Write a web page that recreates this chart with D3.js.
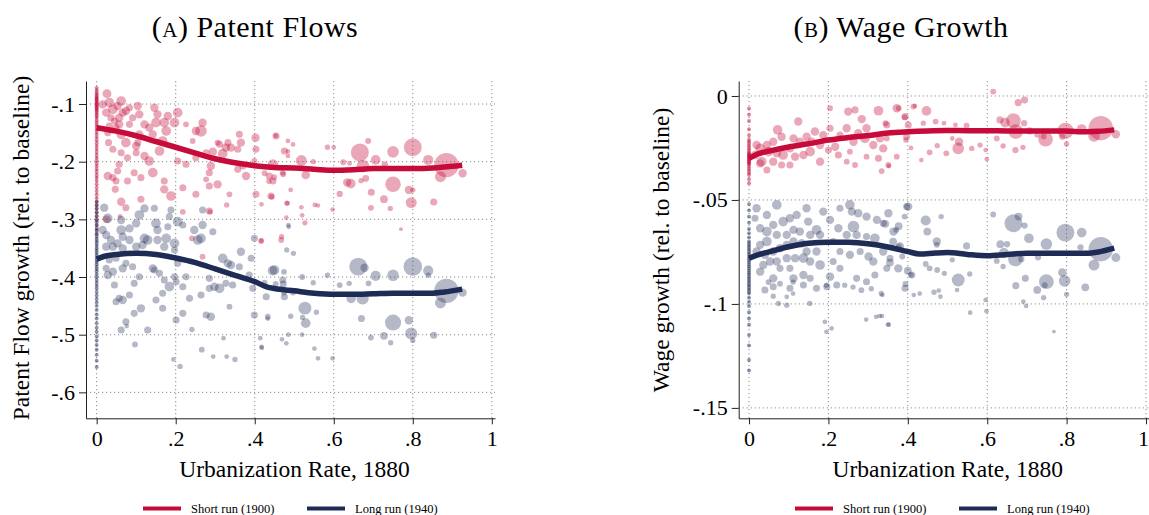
<!DOCTYPE html>
<html>
<head>
<meta charset="utf-8">
<script src="https://cdn.jsdelivr.net/npm/d3@7"></script>
<style>
  body { margin: 0; background: #fff; }
  svg text { font-family: "Liberation Serif", "Times New Roman", serif; fill: #000; }
  .grid line { stroke: #8c8c8c; stroke-dasharray: 1.2 2.8; }
  .axis path, .axis line { stroke: #222; }
</style>
</head>
<body>
<svg id="chart" width="1149" height="515"></svg>
<script>
'use strict';

// ---------- data ----------
const seriesNames = ["Short run (1900)", "Long run (1940)"];
const panelTitles = ["Patent Flows", "Wage Growth"];
const panelLetters = ["a", "b"];
const xTitle = "Urbanization Rate, 1880";
const yTitles = ["Patent Flow growth (rel. to baseline)", "Wage growth (rel. to baseline)"];

const xTicks = [0, 0.2, 0.4, 0.6, 0.8, 1];
const xTickLabels = ["0", ".2", ".4", ".6", ".8", "1"];
const patentTicks = [-0.1, -0.2, -0.3, -0.4, -0.5, -0.6];
const patentTickLabels = ["-.1", "-.2", "-.3", "-.4", "-.5", "-.6"];
const wageTicks = [0, -0.05, -0.1, -0.15];
const wageTickLabels = ["0", "-.05", "-.1", "-.15"];

// fitted lines [urbanization, growth]
const patentShortFit = [[0,-0.141],[0.05,-0.147],[0.1,-0.155],[0.15,-0.165],[0.2,-0.175],[0.25,-0.185],[0.3,-0.195],[0.35,-0.202],[0.4,-0.207],[0.45,-0.21],[0.5,-0.211],[0.55,-0.213],[0.6,-0.215],[0.65,-0.214],[0.7,-0.212],[0.75,-0.212],[0.8,-0.212],[0.85,-0.211],[0.9,-0.208],[0.925,-0.206]];
const patentLongFit = [[0,-0.369],[0.02,-0.364],[0.05,-0.361],[0.1,-0.359],[0.15,-0.361],[0.2,-0.367],[0.25,-0.375],[0.3,-0.386],[0.35,-0.397],[0.4,-0.408],[0.43,-0.417],[0.45,-0.42],[0.5,-0.424],[0.55,-0.428],[0.6,-0.43],[0.65,-0.43],[0.7,-0.429],[0.75,-0.428],[0.8,-0.428],[0.85,-0.428],[0.88,-0.426],[0.925,-0.421]];
const wageShortFit = [[0,-0.03],[0.02,-0.028],[0.05,-0.0265],[0.1,-0.0245],[0.15,-0.023],[0.2,-0.0212],[0.25,-0.02],[0.3,-0.019],[0.35,-0.0178],[0.4,-0.0172],[0.45,-0.0168],[0.5,-0.0166],[0.55,-0.0167],[0.6,-0.0167],[0.65,-0.0168],[0.7,-0.0168],[0.75,-0.0168],[0.8,-0.0169],[0.85,-0.0172],[0.88,-0.017],[0.92,-0.0163]];
const wageLongFit = [[0,-0.078],[0.02,-0.0765],[0.05,-0.075],[0.1,-0.0725],[0.15,-0.0708],[0.2,-0.0703],[0.25,-0.0704],[0.3,-0.0711],[0.35,-0.0726],[0.4,-0.0748],[0.43,-0.076],[0.47,-0.0755],[0.5,-0.0753],[0.55,-0.0762],[0.6,-0.0768],[0.65,-0.0762],[0.7,-0.0756],[0.75,-0.0756],[0.8,-0.0756],[0.85,-0.0756],[0.88,-0.075],[0.92,-0.0732]];

// county points [urbanization, growth, population weight]
const patentShortPts = [
[0.026,-0.082,13],[0.015,-0.1006,11],[0.032,-0.0977,16],[0.041,-0.1092,16],[0.053,-0.1035,11],[0.062,-0.0948,16],[0.066,-0.115,11],[0.024,-0.115,11],[0.036,-0.1237,7],[0.057,-0.1237,11],[0.074,-0.1121,11],[0.083,-0.1064,7],[0.104,-0.1035,11],[0.108,-0.1179,11],[0.091,-0.1237,7],[0.083,-0.1353,7],[0.057,-0.1353,11],[0.045,-0.1295,7],[0.146,-0.1064,11],[0.154,-0.1179,11],[0.18,-0.1208,11],[0.171,-0.1324,16],[0.205,-0.115,16],[0.197,-0.1324,16],[0.15,-0.1324,16],[0.133,-0.141,11],[0.121,-0.1353,11],[0.142,-0.1526,11],[0.108,-0.1526,11],[0.104,-0.167,7],[0.074,-0.167,16],[0.062,-0.1526,16],[0.049,-0.141,7],[0.032,-0.1382,7],[0.028,-0.1497,7],[0.03,-0.167,7],[0.041,-0.1786,7],[0.1,-0.1728,11],[0.121,-0.1902,11],[0.133,-0.1988,16],[0.159,-0.1815,16],[0.167,-0.1642,16],[0.176,-0.1468,16],[0.1,-0.1844,7],[0.078,-0.1931,7],[0.062,-0.1844,7],[0.057,-0.2046,7],[0.053,-0.2162,7],[0.028,-0.2249,11],[0.041,-0.2277,7],[0.049,-0.2335,7],[0.078,-0.2335,7],[0.095,-0.2191,7],[0.112,-0.2277,7],[0.142,-0.2191,16],[0.171,-0.2335,7],[0.171,-0.248,11],[0.188,-0.2595,16],[0.112,-0.2653,7],[0.062,-0.2694,11],[0.074,-0.2798,7],[0.047,-0.248,7],[0.205,-0.1988,7],[0.226,-0.2046,7],[0.218,-0.2451,7],[0.251,-0.1931,7],[0.264,-0.1468,25],[0.251,-0.1468,11],[0.268,-0.1324,11],[0.277,-0.1844,7],[0.294,-0.1827,11],[0.311,-0.1699,7],[0.319,-0.1861,16],[0.327,-0.1757,11],[0.34,-0.1757,11],[0.361,-0.1526,7],[0.365,-0.167,11],[0.357,-0.1786,7],[0.332,-0.167,7],[0.306,-0.167,4],[0.357,-0.2133,7],[0.37,-0.2075,7],[0.378,-0.2249,11],[0.403,-0.1786,7],[0.402,-0.1584,11],[0.403,-0.2566,7],[0.399,-0.1988,4],[0.437,-0.2249,7],[0.441,-0.2595,7],[0.446,-0.2335,7],[0.454,-0.1555,7],[0.471,-0.2191,4],[0.475,-0.1815,7],[0.289,-0.2075,11],[0.285,-0.2191,7],[0.277,-0.2306,4],[0.306,-0.2393,11],[0.285,-0.2422,7],[0.251,-0.2566,7],[0.336,-0.2566,4],[0.226,-0.1353,4],[0.243,-0.1642,4],
[0.059,-0.295,2],[0.025,-0.3,9],[0.287,-0.287,3],[0.329,-0.275,3],[0.481,-0.272,3],[0.218,-0.287,4],[0.285,-0.2856,7],[0.268,-0.3647,4],[0.241,-0.3329,4],[0.416,-0.3376,4],[0.467,-0.3358,4],
[0.453,-0.155,2],[0.484,-0.164,2],[0.497,-0.17,2],[0.484,-0.182,2],[0.484,-0.19,2],[0.446,-0.205,20],[0.425,-0.22,4],[0.449,-0.227,4],[0.436,-0.234,3],[0.472,-0.222,4],[0.491,-0.249,2],[0.443,-0.261,4],[0.417,-0.274,2],[0.483,-0.272,2],[0.48,-0.297,2],[0.527,-0.306,3],[0.518,-0.279,2],[0.52,-0.293,2],[0.552,-0.275,2],[0.56,-0.276,2],[0.417,-0.337,2],[0.468,-0.33,3],[0.518,-0.198,22],[0.529,-0.223,12],[0.548,-0.2,3],[0.584,-0.175,3],[0.6,-0.175,2],[0.624,-0.201,4],[0.64,-0.203,2],[0.666,-0.184,69],[0.687,-0.164,4],[0.674,-0.208,30],[0.706,-0.197,16],[0.729,-0.205,5],[0.75,-0.183,25],[0.8,-0.175,69],[0.839,-0.197,18],[0.885,-0.206,137],[0.87,-0.226,22],[0.926,-0.22,11],[0.634,-0.236,11],[0.643,-0.238,16],[0.681,-0.229,6],[0.669,-0.233,3],[0.75,-0.239,50],[0.695,-0.253,7],[0.727,-0.265,9],[0.694,-0.28,4],[0.743,-0.281,3],[0.79,-0.249,11],[0.8,-0.249,3],[0.796,-0.271,22],[0.853,-0.27,7],[0.615,-0.256,5],[0.597,-0.283,2],[0.77,-0.317,1]
];
const patentLongPts = [
[0.019,-0.2798,11],[0.028,-0.2983,16],[0.062,-0.3012,11],[0.062,-0.3185,16],[0.083,-0.3156,11],[0.1,-0.3069,11],[0.108,-0.2925,16],[0.121,-0.2809,11],[0.146,-0.2809,7],[0.15,-0.3069,16],[0.154,-0.3185,11],[0.176,-0.3329,16],[0.18,-0.3127,7],[0.205,-0.304,16],[0.197,-0.3416,16],[0.171,-0.3474,11],[0.154,-0.3358,11],[0.129,-0.3358,16],[0.121,-0.3329,16],[0.116,-0.3445,11],[0.1,-0.3474,11],[0.083,-0.3358,11],[0.066,-0.3301,11],[0.053,-0.3416,11],[0.036,-0.3358,11],[0.024,-0.3272,11],[0.015,-0.3185,11],[0.024,-0.3474,11],[0.041,-0.3474,11],[0.066,-0.3503,11],[0.032,-0.3705,7],[0.049,-0.3676,7],[0.074,-0.3763,7],[0.091,-0.3821,7],[0.066,-0.385,11],[0.041,-0.3908,11],[0.024,-0.385,7],[0.028,-0.3965,11],[0.045,-0.4139,7],[0.057,-0.437,7],[0.049,-0.4428,7],[0.066,-0.4399,11],[0.083,-0.4312,7],[0.095,-0.411,7],[0.108,-0.3994,7],[0.142,-0.385,11],[0.146,-0.3879,7],[0.159,-0.3936,7],[0.171,-0.4052,7],[0.184,-0.4168,16],[0.197,-0.3994,7],[0.201,-0.4081,7],[0.167,-0.4283,7],[0.15,-0.4399,7],[0.167,-0.4543,7],[0.112,-0.4543,11],[0.095,-0.463,7],[0.074,-0.4775,7],[0.062,-0.492,7],[0.129,-0.492,7],[0.201,-0.4746,7],[0.218,-0.463,7],[0.197,-0.3532,7],[0.205,-0.3763,7],[0.226,-0.3994,7],[0.247,-0.3185,11],[0.256,-0.3358,16],[0.268,-0.3098,11],[0.264,-0.3329,16],[0.294,-0.3214,7],[0.319,-0.3676,16],[0.332,-0.3763,11],[0.34,-0.3792,11],[0.361,-0.3821,7],[0.365,-0.3561,11],[0.327,-0.411,7],[0.344,-0.4139,7],[0.311,-0.4197,16],[0.298,-0.4168,11],[0.285,-0.4197,7],[0.264,-0.4312,7],[0.277,-0.4659,7],[0.289,-0.4688,11],[0.336,-0.4514,4],[0.391,-0.3676,7],[0.386,-0.3965,7],[0.399,-0.3329,7],[0.395,-0.4197,7],[0.399,-0.4659,7],[0.429,-0.4341,7],[0.433,-0.4688,4],[0.45,-0.3879,16],[0.471,-0.4052,7],[0.475,-0.4341,7],[0.235,-0.437,7],[0.218,-0.4168,7],[0.285,-0.4023,7],[0.184,-0.295,7],[0.188,-0.2838,7],[0.218,-0.3098,7],[0.268,-0.2838,7],
[0.097,-0.517,4],[0.194,-0.543,2],[0.211,-0.555,3],[0.266,-0.526,4],[0.295,-0.538,2],[0.329,-0.538,2],[0.35,-0.543,3],[0.321,-0.506,2],[0.241,-0.491,3],[0.414,-0.506,2],[0.418,-0.523,2],[0.076,-0.485,2],[0.485,-0.31,2],[0.481,-0.353,3],[0.498,-0.359,3],
[0.445,-0.389,16],[0.474,-0.391,4],[0.425,-0.41,4],[0.453,-0.412,4],[0.472,-0.412,7],[0.474,-0.427,4],[0.497,-0.427,4],[0.52,-0.4,4],[0.548,-0.41,3],[0.584,-0.397,3],[0.615,-0.414,4],[0.639,-0.411,3],[0.662,-0.382,69],[0.678,-0.384,11],[0.706,-0.398,18],[0.75,-0.397,25],[0.8,-0.382,75],[0.839,-0.389,18],[0.839,-0.397,3],[0.688,-0.411,4],[0.644,-0.437,16],[0.673,-0.437,28],[0.885,-0.424,137],[0.926,-0.427,11],[0.87,-0.445,22],[0.527,-0.454,32],[0.529,-0.48,16],[0.521,-0.47,3],[0.556,-0.461,3],[0.491,-0.468,3],[0.433,-0.472,2],[0.67,-0.472,7],[0.75,-0.479,54],[0.79,-0.475,11],[0.796,-0.498,28],[0.853,-0.501,7],[0.727,-0.502,9],[0.694,-0.505,4],[0.744,-0.514,3],[0.8,-0.51,3],[0.486,-0.313,2],[0.485,-0.5,2],[0.469,-0.508,2],[0.48,-0.515,2],[0.417,-0.521,2],[0.56,-0.541,2],[0.597,-0.541,2],[0.52,-0.5,2],[0.551,-0.524,2]
];
const wageShortPts = [
[0.124,-0.0123,11],[0.072,-0.0163,16],[0.082,-0.0196,11],[0.061,-0.022,11],[0.045,-0.0236,11],[0.028,-0.0252,16],[0.019,-0.0236,11],[0.015,-0.0284,11],[0.032,-0.0316,16],[0.049,-0.0268,16],[0.07,-0.0276,11],[0.086,-0.0284,16],[0.103,-0.0252,11],[0.112,-0.0204,11],[0.128,-0.022,11],[0.145,-0.0196,11],[0.158,-0.022,11],[0.166,-0.0171,11],[0.187,-0.0188,11],[0.179,-0.0236,11],[0.154,-0.0268,16],[0.137,-0.0284,11],[0.116,-0.0292,11],[0.103,-0.0332,7],[0.082,-0.0332,7],[0.061,-0.0316,11],[0.045,-0.0356,7],[0.028,-0.0324,11],[0.179,-0.0316,11],[0.2,-0.026,7],[0.217,-0.0244,11],[0.225,-0.0284,7],[0.204,-0.0155,7],[0.229,-0.0188,7],[0.246,-0.0155,11],[0.263,-0.022,11],[0.275,-0.0179,11],[0.296,-0.0155,11],[0.292,-0.0204,16],[0.313,-0.0236,11],[0.33,-0.0204,11],[0.338,-0.0252,11],[0.347,-0.0139,7],[0.326,-0.03,7],[0.296,-0.0292,4],[0.246,-0.0316,4],[0.254,-0.0268,4],[0.267,-0.0332,4],[0.25,-0.0075,11],[0.267,-0.0067,7],[0.284,-0.0111,11],[0.326,-0.0071,16],[0.372,-0.0059,11],[0.393,-0.0099,7],[0.401,-0.0139,7],[0.397,-0.0196,7],[0.372,-0.0292,4],[0.351,-0.0332,4],[0.334,-0.0361,4],[0.414,-0.0051,4],[0.347,-0.0204,4],[0.204,-0.0059,4],
[0.344,-0.0131,4],[0.377,-0.0059,4],[0.392,-0.0103,4],[0.418,-0.0048,2],[0.447,-0.0072,16],[0.439,-0.0131,3],[0.47,-0.0123,4],[0.491,-0.0131,2],[0.52,-0.0139,2],[0.548,-0.0143,4],[0.512,-0.0204,2],[0.529,-0.022,11],[0.527,-0.0252,25],[0.561,-0.0252,3],[0.582,-0.0236,3],[0.474,-0.0239,3],[0.497,-0.0276,4],[0.455,-0.0271,4],[0.434,-0.0308,2],[0.352,-0.0337,2],[0.395,-0.0212,3],[0.408,-0.025,2],[0.596,-0.026,2],[0.599,-0.0304,2],[0.615,0.0021,4],[0.678,-0.0032,7],[0.694,-0.0019,7],[0.632,-0.0115,7],[0.645,-0.0128,16],[0.666,-0.0119,44],[0.672,-0.0171,44],[0.693,-0.0131,5],[0.707,-0.0168,7],[0.726,-0.0187,4],[0.747,-0.0208,44],[0.742,-0.0195,4],[0.671,-0.026,5],[0.69,-0.0247,3],[0.624,-0.0204,4],[0.64,-0.024,3],[0.797,-0.0167,54],[0.789,-0.0196,5],[0.8,-0.0231,3],[0.838,-0.0159,16],[0.886,-0.0155,137],[0.869,-0.0192,25],[0.924,-0.0184,11]
];
const wageLongPts = [
[0.019,-0.054,11],[0.015,-0.0588,7],[0.07,-0.0524,16],[0.045,-0.0572,11],[0.028,-0.0636,11],[0.045,-0.0652,16],[0.061,-0.062,11],[0.086,-0.0604,16],[0.103,-0.0588,11],[0.12,-0.0572,11],[0.145,-0.054,11],[0.149,-0.0604,11],[0.17,-0.0644,16],[0.179,-0.0668,11],[0.154,-0.0668,11],[0.128,-0.0652,11],[0.112,-0.0644,11],[0.095,-0.0668,11],[0.07,-0.0668,11],[0.045,-0.07,16],[0.028,-0.0716,11],[0.019,-0.0748,11],[0.04,-0.0764,11],[0.061,-0.0748,11],[0.078,-0.0732,11],[0.095,-0.0716,11],[0.112,-0.07,11],[0.133,-0.0708,11],[0.145,-0.0748,11],[0.137,-0.078,16],[0.116,-0.078,11],[0.095,-0.078,11],[0.07,-0.0796,11],[0.053,-0.0796,11],[0.036,-0.0813,11],[0.028,-0.0845,11],[0.061,-0.0877,11],[0.078,-0.0829,7],[0.103,-0.0829,7],[0.112,-0.0877,11],[0.137,-0.0861,11],[0.154,-0.0796,11],[0.179,-0.0813,16],[0.17,-0.0748,11],[0.187,-0.0556,11],[0.204,-0.0596,11],[0.229,-0.054,7],[0.254,-0.0524,16],[0.259,-0.0556,11],[0.275,-0.0564,11],[0.296,-0.058,11],[0.263,-0.0628,25],[0.225,-0.0636,11],[0.246,-0.0668,11],[0.271,-0.0668,11],[0.322,-0.0596,11],[0.338,-0.0612,7],[0.351,-0.0564,11],[0.364,-0.0652,11],[0.317,-0.0684,16],[0.296,-0.0676,7],[0.212,-0.07,7],[0.229,-0.0748,7],[0.212,-0.0796,7],[0.254,-0.0764,11],[0.28,-0.0748,7],[0.301,-0.0772,11],[0.313,-0.0796,11],[0.338,-0.0748,11],[0.355,-0.078,7],[0.38,-0.0724,11],[0.376,-0.0829,11],[0.347,-0.0829,7],[0.317,-0.0861,7],[0.296,-0.0893,7],[0.271,-0.0877,7],[0.229,-0.0829,7],[0.204,-0.0869,11],[0.154,-0.0877,7],[0.137,-0.0909,7],[0.17,-0.0925,7],[0.196,-0.0917,7],[0.221,-0.0909,7],[0.103,-0.0925,7],[0.061,-0.0917,7],[0.04,-0.0933,7],[0.397,-0.0532,7],[0.41,-0.0861,7],[0.393,-0.0925,7],
[0.049,-0.0895,4],[0.078,-0.0903,4],[0.111,-0.0895,3],[0.061,-0.0963,3],[0.074,-0.0998,3],[0.095,-0.0966,2],[0.095,-0.1006,3],[0.111,-0.095,2],[0.153,-0.0998,3],[0.195,-0.091,3],[0.241,-0.091,3],[0.262,-0.0919,3],[0.283,-0.0934,4],[0.308,-0.0927,3],[0.333,-0.095,3],[0.191,-0.1086,2],[0.208,-0.1118,2],[0.195,-0.1134,2],[0.295,-0.1075,2],[0.32,-0.1062,2],[0.329,-0.1058,2],[0.35,-0.1099,2],
[0.401,-0.0532,11],[0.392,-0.058,4],[0.343,-0.0615,9],[0.371,-0.0644,4],[0.377,-0.0626,9],[0.363,-0.07,9],[0.377,-0.0724,4],[0.386,-0.0772,4],[0.355,-0.0801,9],[0.4,-0.084,9],[0.408,-0.086,3],[0.394,-0.0904,4],[0.336,-0.0957,2],[0.415,-0.0957,2],[0.43,-0.095,2],[0.335,-0.1058,2],[0.352,-0.11,2],[0.445,-0.0599,18],[0.449,-0.0652,9],[0.484,-0.058,3],[0.473,-0.07,11],[0.473,-0.0716,4],[0.445,-0.0808,4],[0.455,-0.0829,4],[0.474,-0.0837,4],[0.492,-0.0853,3],[0.512,-0.0788,3],[0.527,-0.0885,32],[0.548,-0.0721,7],[0.556,-0.0856,3],[0.524,-0.0933,2],[0.478,-0.0936,2],[0.466,-0.0944,3],[0.482,-0.0965,2],[0.557,-0.1042,2],[0.596,-0.0981,2],[0.598,-0.1035,2],[0.615,-0.057,4],[0.633,-0.0713,9],[0.65,-0.0713,5],[0.666,-0.0612,69],[0.679,-0.058,9],[0.694,-0.0623,5],[0.705,-0.0684,16],[0.642,-0.0756,18],[0.671,-0.0784,44],[0.686,-0.0785,5],[0.624,-0.0793,4],[0.64,-0.082,3],[0.728,-0.0776,5],[0.749,-0.0712,25],[0.749,-0.0893,44],[0.745,-0.091,4],[0.696,-0.0877,7],[0.672,-0.0912,7],[0.726,-0.0933,9],[0.742,-0.097,3],[0.691,-0.0989,2],[0.698,-0.101,2],[0.768,-0.1133,1],[0.797,-0.0657,69],[0.838,-0.0657,16],[0.835,-0.0728,5],[0.886,-0.0737,137],[0.869,-0.0813,22],[0.924,-0.0777,13],[0.789,-0.0849,11],[0.795,-0.0889,25],[0.847,-0.092,9],[0.8,-0.0954,3]
];

// rural counties (urbanization = 0), growth values only
const patentShortZero = [-0.072,-0.076,-0.08,-0.083,-0.086,-0.088,-0.09,-0.092,-0.094,-0.096,-0.098,-0.1,-0.102,-0.104,-0.106,-0.108,-0.11,-0.112,-0.115,-0.118,-0.121,-0.124,-0.128,-0.132,-0.136,-0.14,-0.144,-0.148,-0.153,-0.158,-0.163,-0.168,-0.173,-0.178,-0.183,-0.188,-0.193,-0.198,-0.203,-0.208,-0.213,-0.218,-0.223,-0.228,-0.233,-0.239,-0.245,-0.251,-0.257,-0.263,-0.269,-0.275,-0.281,-0.288,-0.295,-0.302,-0.31,-0.318,-0.326];
const patentLongZero = [-0.27,-0.276,-0.282,-0.288,-0.294,-0.3,-0.305,-0.31,-0.315,-0.32,-0.325,-0.33,-0.334,-0.338,-0.342,-0.346,-0.35,-0.354,-0.358,-0.362,-0.366,-0.37,-0.374,-0.378,-0.382,-0.386,-0.39,-0.395,-0.4,-0.405,-0.41,-0.415,-0.42,-0.426,-0.432,-0.438,-0.444,-0.45,-0.457,-0.465,-0.472,-0.48,-0.488,-0.495,-0.503,-0.51,-0.518,-0.526,-0.535,-0.545,-0.556];
const wageShortZero = [-0.006,-0.009,-0.012,-0.016,-0.019,-0.021,-0.022,-0.023,-0.024,-0.025,-0.026,-0.027,-0.0275,-0.028,-0.0285,-0.029,-0.0295,-0.03,-0.0305,-0.031,-0.0315,-0.032,-0.0325,-0.033,-0.034,-0.035,-0.036,-0.037,-0.038,-0.04,-0.042];
const wageLongZero = [-0.052,-0.055,-0.058,-0.061,-0.064,-0.066,-0.068,-0.07,-0.071,-0.072,-0.073,-0.074,-0.075,-0.076,-0.077,-0.078,-0.079,-0.08,-0.081,-0.082,-0.083,-0.084,-0.085,-0.086,-0.087,-0.088,-0.089,-0.09,-0.091,-0.092,-0.093,-0.094,-0.095,-0.097,-0.099,-0.101,-0.104,-0.107,-0.11,-0.115,-0.12,-0.127,-0.132];
const ruralWeight = 1;

// ---------- drawing ----------
const red = "#c60b3b", navy = "#1e2b55";
const svg = d3.select("#chart");
const rScale = d3.scaleSqrt().domain([0, 144]).range([1, 12.5]);

function drawPanel(o) {
  const x = d3.scaleLinear().domain(o.xDomain).range([o.left, o.right]);
  const y = d3.scaleLinear().domain(o.yDomain).range([o.top, o.bottom]);
  const g = svg.append("g");

  // grid
  const grid = g.append("g").attr("class", "grid");
  grid.selectAll("line.h").data(o.yTicks).join("line").attr("class", "h")
    .attr("x1", o.left).attr("x2", o.right)
    .attr("y1", d => y(d)).attr("y2", d => y(d));
  grid.selectAll("line.v").data(xTicks).join("line").attr("class", "v")
    .attr("x1", d => x(d)).attr("x2", d => x(d))
    .attr("y1", o.top).attr("y2", o.bottom);

  // points
  const series = [
    {pts: o.shortPts, zero: o.shortZero, color: red, op: 0.36},
    {pts: o.longPts, zero: o.longZero, color: navy, op: 0.33}
  ];
  series.forEach(s => {
    g.append("g").selectAll("circle").data(s.pts).join("circle")
      .attr("cx", d => x(d[0])).attr("cy", d => y(d[1]))
      .attr("r", d => rScale(d[2]))
      .attr("fill", s.color).attr("fill-opacity", s.op);
    g.append("g").selectAll("circle").data(s.zero).join("circle")
      .attr("cx", x(0)).attr("cy", d => y(d))
      .attr("r", rScale(ruralWeight))
      .attr("fill", s.color).attr("fill-opacity", 0.5);
  });

  // fitted lines
  const line = d3.line().x(d => x(d[0])).y(d => y(d[1])).curve(d3.curveMonotoneX);
  [[o.longFit, navy], [o.shortFit, red]].forEach(([fit, c]) => {
    g.append("path").datum(fit).attr("d", line)
      .attr("fill", "none").attr("stroke", c).attr("stroke-width", 5.5)
      .attr("stroke-linejoin", "round");
  });

  // axes
  const ya = g.append("g").attr("class", "axis")
    .attr("transform", `translate(${o.left},0)`)
    .call(d3.axisLeft(y).tickValues(o.yTicks).tickFormat((d, i) => o.yLabels[i])
      .tickSize(7).tickSizeOuter(0).tickPadding(4));
  ya.selectAll("text").attr("font-size", 22);
  const xa = g.append("g").attr("class", "axis")
    .attr("transform", `translate(0,${o.bottom})`)
    .call(d3.axisBottom(x).tickValues(xTicks).tickFormat((d, i) => xTickLabels[i])
      .tickSize(6).tickSizeOuter(0).tickPadding(6));
  xa.selectAll("text").attr("font-size", 22)
    .attr("dx", d => (d === 1 ? o.lastLabelShift : 0));

  // axis titles
  g.append("text").attr("x", (o.left + o.right) / 2 + o.xTitleShift).attr("y", 477)
    .attr("text-anchor", "middle").attr("font-size", 23.5).text(xTitle);
  g.append("text").attr("transform", `translate(${o.yTitleX},${o.yTitleY}) rotate(-90)`)
    .attr("text-anchor", "middle").attr("font-size", 23.5).text(o.yTitle);

  // panel title
  const t = g.append("text").attr("x", o.titleX).attr("y", 37)
    .attr("text-anchor", "middle").attr("font-size", 30).attr("letter-spacing", 0.5);
  t.append("tspan").text("(");
  t.append("tspan").attr("font-variant", "small-caps").text(o.letter);
  t.append("tspan").text(") " + o.title);

  // legend
  const leg = g.append("g");
  [[red, seriesNames[0], 0], [navy, seriesNames[1], 1]].forEach(([c, name, i]) => {
    const lx = o.legendX + i * 164;
    leg.append("line").attr("x1", lx).attr("x2", lx + 38).attr("y1", 508.5).attr("y2", 508.5)
      .attr("stroke", c).attr("stroke-width", 4);
    leg.append("text").attr("x", lx + 48).attr("y", 512.5).attr("font-size", 12.5).text(name);
  });
}

drawPanel({
  xDomain: [-0.027, 1.008], yDomain: [-0.0601, -0.645],
  left: 86, right: 495, top: 81, bottom: 418.3,
  yTicks: patentTicks, yLabels: patentTickLabels,
  shortPts: patentShortPts, longPts: patentLongPts,
  shortZero: patentShortZero, longZero: patentLongZero,
  shortFit: patentShortFit, longFit: patentLongFit,
  yTitle: yTitles[0], yTitleX: 29, yTitleY: 248, xTitleShift: 4,
  title: panelTitles[0], letter: panelLetters[0], titleX: 255,
  legendX: 143, lastLabelShift: 0
});

drawPanel({
  xDomain: [-0.026, 1.007], yDomain: [0.0072, -0.155],
  left: 738.7, right: 1148.8, top: 81, bottom: 418.3,
  yTicks: wageTicks, yLabels: wageTickLabels,
  shortPts: wageShortPts, longPts: wageLongPts,
  shortZero: wageShortZero, longZero: wageLongZero,
  shortFit: wageShortFit, longFit: wageLongFit,
  yTitle: yTitles[1], yTitleX: 669, yTitleY: 250, xTitleShift: 4,
  title: panelTitles[1], letter: panelLetters[1], titleX: 901,
  legendX: 795, lastLabelShift: -3
});
</script>
</body>
</html>
